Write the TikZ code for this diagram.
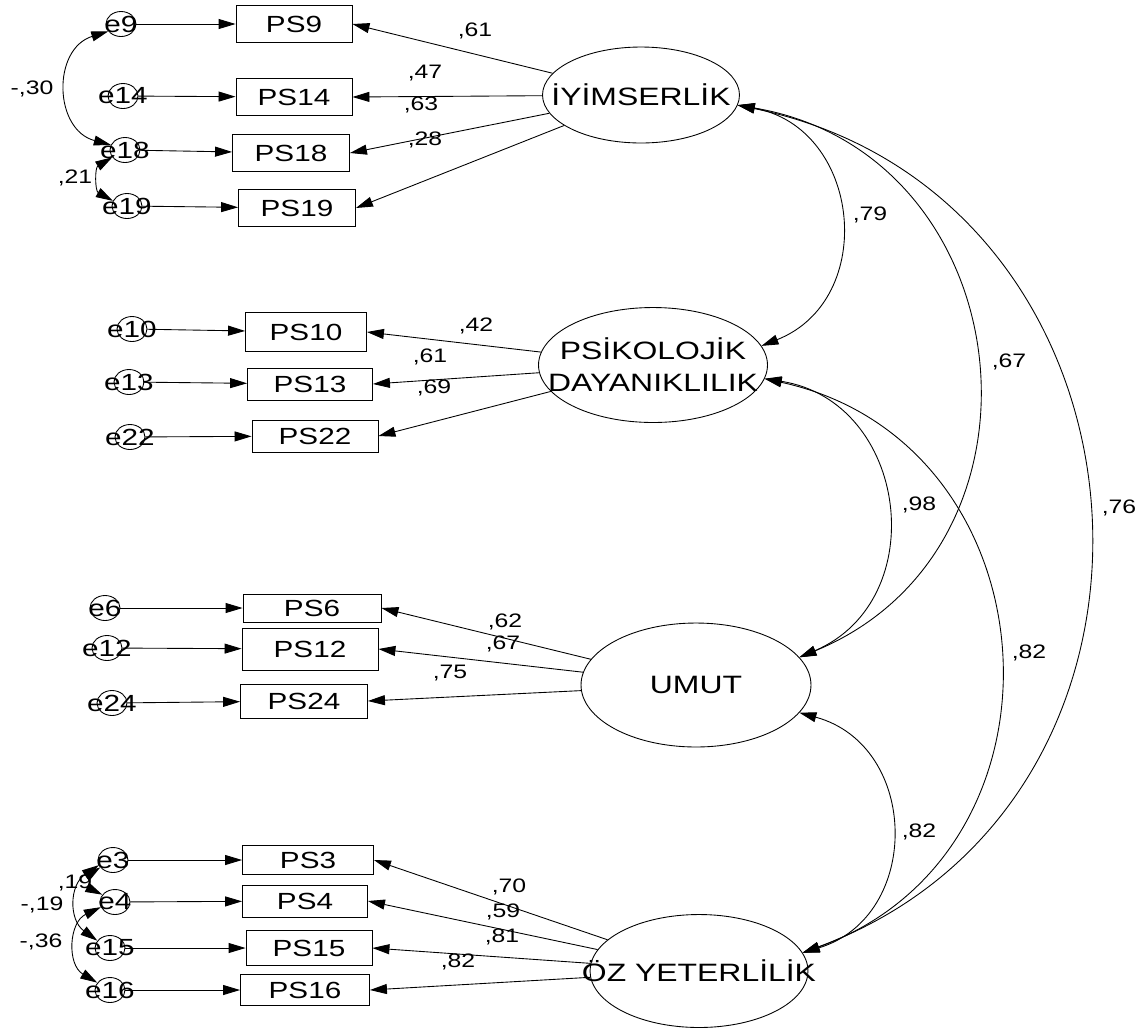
\documentclass[tikz,border=0pt]{standalone}
\usepackage{fontspec}
\setmainfont{Liberation Sans}[FakeStretch=1.27]
\usetikzlibrary{shapes.geometric,arrows.meta}

\tikzset{
	latent/.style={draw, ellipse, inner sep=0pt},
	latlab/.style={font=\fontsize{14.3}{18.2}\selectfont, align=center, inner sep=0pt},
	obs/.style 2 args={draw, rectangle, inner sep=0pt, minimum width=#1*0.02cm, minimum height=#2*0.02cm, font=\fontsize{13.3}{15}\selectfont},
	err/.style={draw, ellipse, inner sep=0pt, minimum width=0.6cm, minimum height=0.5cm},
	errlab/.style={font=\fontsize{13.3}{15}\selectfont, inner sep=0pt},
	est/.style={font=\fontsize{11.1}{13}\selectfont, inner sep=0pt},
	cov/.style={<->, looseness=1.33}
}

\begin{document}
\begin{tikzpicture}[x=0.02cm, y=-0.02cm, line width=0.5pt, >={Triangle[length=0.34cm,width=0.2cm]}]
	\useasboundingbox (0,0) rectangle (1143,1029);

	% Latent variables
	\node[latent, minimum width=3.94cm, minimum height=1.92cm] (iyim) at (641,95) {};
	\node[latlab] (iyimt) at (iyim) {İYİMSERLİK};
	\node[latent, minimum width=4.58cm, minimum height=2.3cm] (psik) at (653,365) {};
	\node[latlab] (psikt) at (psik) {PSİKOLOJİK\\DAYANIKLILIK};
	\node[latent, minimum width=4.6cm, minimum height=2.48cm] (umut) at (696,685) {};
	\node[latlab] (umutt) at (umut) {UMUT};
	\node[latent, minimum width=4.36cm, minimum height=2.26cm] (oz) at (699,971) {};
	\node[latlab] (ozt) at (oz) {ÖZ YETERLİLİK};

	% Observed variables
	\node[obs={116}{37}] (ps9) at (294,24) {PS9};
	\node[obs={116}{37}] (ps14) at (294,97) {PS14};
	\node[obs={117}{37}] (ps18) at (291,153) {PS18};
	\node[obs={117}{37}] (ps19) at (297,208) {PS19};
	\node[obs={121}{39}] (ps10) at (306,332) {PS10};
	\node[obs={125}{32}] (ps13) at (310,384) {PS13};
	\node[obs={126}{32}] (ps22) at (315,436) {PS22};
	\node[obs={138}{28}] (ps6) at (312,608) {PS6};
	\node[obs={136}{42}] (ps12) at (310,649) {PS12};
	\node[obs={127}{34}] (ps24) at (304,701) {PS24};
	\node[obs={131}{29}] (ps3) at (308,860) {PS3};
	\node[obs={125}{32}] (ps4) at (305,901) {PS4};
	\node[obs={126}{35}] (ps15) at (309,948) {PS15};
	\node[obs={129}{31}] (ps16) at (305,990) {PS16};

	% Errors
	\node[err] (e9) at (121,24) {};   \node[errlab] (e9t) at (e9) {e9};
	\node[err] (e14) at (123,96) {};  \node[errlab] (e14t) at (e14) {e14};
	\node[err] (e18) at (125,150) {}; \node[errlab] (e18t) at (e18) {e18};
	\node[err] (e19) at (127,206) {}; \node[errlab] (e19t) at (e19) {e19};
	\node[err] (e10) at (132,329) {}; \node[errlab] (e10t) at (e10) {e10};
	\node[err] (e13) at (129,382) {}; \node[errlab] (e13t) at (e13) {e13};
	\node[err] (e22) at (130,437) {}; \node[errlab] (e22t) at (e22) {e22};
	\node[err] (e6) at (105,608) {};  \node[errlab] (e6t) at (e6) {e6};
	\node[err] (e12) at (107,648) {}; \node[errlab] (e12t) at (e12) {e12};
	\node[err] (e24) at (112,703) {}; \node[errlab] (e24t) at (e24) {e24};
	\node[err] (e3) at (113,860) {};  \node[errlab] (e3t) at (e3) {e3};
	\node[err] (e4) at (115,902) {};  \node[errlab] (e4t) at (e4) {e4};
	\node[err] (e15) at (110,948) {}; \node[errlab] (e15t) at (e15) {e15};
	\node[err] (e16) at (110,990) {}; \node[errlab] (e16t) at (e16) {e16};

	% Error paths
	\draw[->] (e9) -- (ps9);
	\draw[->] (e14) -- (ps14);
	\draw[->] (e18) -- (ps18);
	\draw[->] (e19) -- (ps19);
	\draw[->] (e10) -- (ps10);
	\draw[->] (e13) -- (ps13);
	\draw[->] (e22) -- (ps22);
	\draw[->] (e6) -- (ps6);
	\draw[->] (e12) -- (ps12);
	\draw[->] (e24) -- (ps24);
	\draw[->] (e3) -- (ps3);
	\draw[->] (e4) -- (ps4);
	\draw[->] (e15) -- (ps15);
	\draw[->] (e16) -- (ps16);

	% Loadings
	\draw[->] (iyim) -- (ps9.east);
	\draw[->] (iyim) -- (ps14.east);
	\draw[->] (iyim) -- (ps18.east);
	\draw[->] (iyim) -- (ps19.east);
	\draw[->] (psik) -- (ps10.east);
	\draw[->] (psik) -- (ps13.east);
	\draw[->] (psik) -- (ps22.east);
	\draw[->] (umut) -- (ps6.east);
	\draw[->] (umut) -- (ps12.east);
	\draw[->] (umut) -- (ps24.east);
	\draw[->] (oz) -- (ps3.east);
	\draw[->] (oz) -- (ps4.east);
	\draw[->] (oz) -- (ps15.east);
	\draw[->] (oz) -- (ps16.east);

	\node[est] (lps9) at (475,31) {,61};
	\node[est] (lps14) at (425,73) {,47};
	\node[est] (lps18) at (421,105) {,63};
	\node[est] (lps19) at (425,140) {,28};
	\node[est] (lps10) at (476,326) {,42};
	\node[est] (lps13) at (430,357) {,61};
	\node[est] (lps22) at (434,388) {,69};
	\node[est] (lps6) at (505,622) {,62};
	\node[est] (lps12) at (503,644) {,67};
	\node[est] (lps24) at (450,673) {,75};
	\node[est] (lps3) at (509,887) {,70};
	\node[est] (lps4) at (503,912) {,59};
	\node[est] (lps15) at (502,937) {,81};
	\node[est] (lps16) at (458,962) {,82};

	% Factor covariances
	\draw[cov] (iyim.-6) to[bend left=74] (psik.10);
	\draw[cov] (iyim.-6) to[bend left=74] (umut.15);
	\draw[cov] (iyim.-6) to[bend left=74] (oz.10);
	\draw[cov] (psik.-7) to[bend left=74] (umut.15);
	\draw[cov] (psik.-7) to[bend left=74] (oz.10);
	\draw[cov] (umut.-15) to[bend left=74] (oz.10);

	\node[est] (c79) at (870,215) {,79};
	\node[est] (c67) at (1009,362) {,67};
	\node[est] (c76) at (1119,508) {,76};
	\node[est] (c98) at (919,505) {,98};
	\node[est] (c82a) at (1029,653) {,82};
	\node[est] (c82b) at (919,832) {,82};

	% Error covariances
	\draw[cov] (e9.-150) to[bend right=74] (e18.160);
	\draw[cov, looseness=1.2] (e18.-150) to[bend right=60] (e19.160);
	\draw[cov, looseness=1.2] (e3.-150) to[bend right=60] (e4.150);
	\draw[cov, looseness=1.2] (e3.-160) to[bend right=55] (e15.150);
	\draw[cov, looseness=1.2] (e4.-160) to[bend right=62] (e16.150);

	\node[est] (c30) at (32,89) {-,30};
	\node[est] (c21) at (75,178) {,21};
	\node[est] (c19a) at (75,883) {,19};
	\node[est] (c19b) at (42,905) {-,19};
	\node[est] (c36) at (41,942) {-,36};

\end{tikzpicture}
\end{document}
